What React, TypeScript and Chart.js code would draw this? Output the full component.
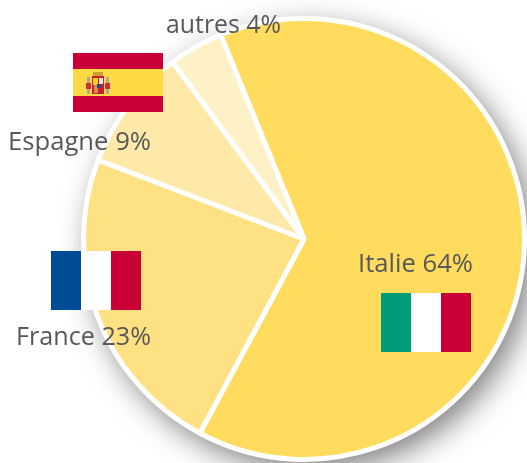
import React, { useEffect, useRef } from "react";
import { Chart, registerables } from "chart.js";

Chart.register(...registerables);

const categories = ["Italie", "France", "Espagne", "autres"];
const shares = [64, 23, 9, 4];
const sliceColors = ["#FFDC5E", "#FEE182", "#FEE9A8", "#FEF1C5"];
const labelTexts = ["Italie 64%", "France 23%", "Espagne 9%", "autres 4%"];
const labelBoxes = [
  [358, 272, 115],
  [16, 345, 135],
  [8, 150, 143],
  [166, 33, 115],
];

type R = [number, number, number, number, string];

const flagRects: R[] = [
  // Espagne
  [73, 53, 90, 59, "#C90035"],
  [73, 69, 90, 27, "#FFDA44"],
  [87, 77, 3, 17, "#B9A38A"],
  [106, 77, 3, 17, "#B9A38A"],
  [86, 83, 5, 6, "#C8323C"],
  [105, 83, 5, 6, "#C8323C"],
  [93, 72, 10, 4, "#C9A22F"],
  [92, 76, 12, 18, "#C8202F"],
  [93, 78, 5, 7, "#F5D020"],
  [99, 78, 4, 6, "#F3E6E0"],
  [94, 85, 4, 8, "#D98A50"],
  [97, 84, 4, 4, "#2A4A7C"],
  // France
  [51, 251, 30, 59, "#004B96"],
  [81, 251, 30, 59, "#FFFFFF"],
  [111, 251, 30, 59, "#C90035"],
  // Italie
  [381, 293, 30, 59, "#009B77"],
  [411, 293, 30, 59, "#FFFFFF"],
  [441, 293, 30, 59, "#C90035"],
];

const decorPlugin = {
  id: "decor",
  beforeDatasetsDraw(chart: any) {
    const arc = chart.getDatasetMeta(0).data[0];
    const { ctx } = chart;
    ctx.save();
    ctx.shadowColor = "rgba(0,0,0,0.5)";
    ctx.shadowBlur = 30;
    ctx.shadowOffsetX = 8;
    ctx.shadowOffsetY = 10;
    ctx.fillStyle = "#FFFFFF";
    ctx.beginPath();
    ctx.arc(arc.x, arc.y, arc.outerRadius + 1, 0, Math.PI * 2);
    ctx.fill();
    ctx.restore();
  },
  afterDatasetsDraw(chart: any) {
    const { ctx } = chart;
    ctx.save();
    flagRects.forEach(([x, y, w, h, c]) => {
      ctx.fillStyle = c;
      ctx.fillRect(x, y, w, h);
    });
    ctx.fillStyle = "#58585A";
    ctx.font = '26px "Open Sans"';
    ctx.textBaseline = "alphabetic";
    ctx.textAlign = "left";
    labelTexts.forEach((t, i) => {
      const [x, y, w] = labelBoxes[i];
      ctx.fillText(t, x, y, w);
    });
    ctx.restore();
  },
};

export default function App() {
  const ref = useRef<HTMLCanvasElement>(null);
  useEffect(() => {
    document.body.style.margin = "0";
    const chart = new Chart(ref.current!, {
      type: "pie",
      data: {
        labels: categories,
        datasets: [
          {
            data: shares,
            backgroundColor: sliceColors,
            borderColor: "#FFFFFF",
            borderWidth: 5,
            hoverOffset: 0,
          },
        ],
      },
      options: {
        responsive: false,
        animation: false,
        rotation: -22.2,
        layout: { padding: { left: 81, right: -2, top: 15, bottom: 0 } },
        plugins: { legend: { display: false }, tooltip: { enabled: false } },
      },
      plugins: [decorPlugin],
    });
    return () => chart.destroy();
  }, []);
  return <canvas ref={ref} width={527} height={463} style={{ display: "block" }} />;
}
